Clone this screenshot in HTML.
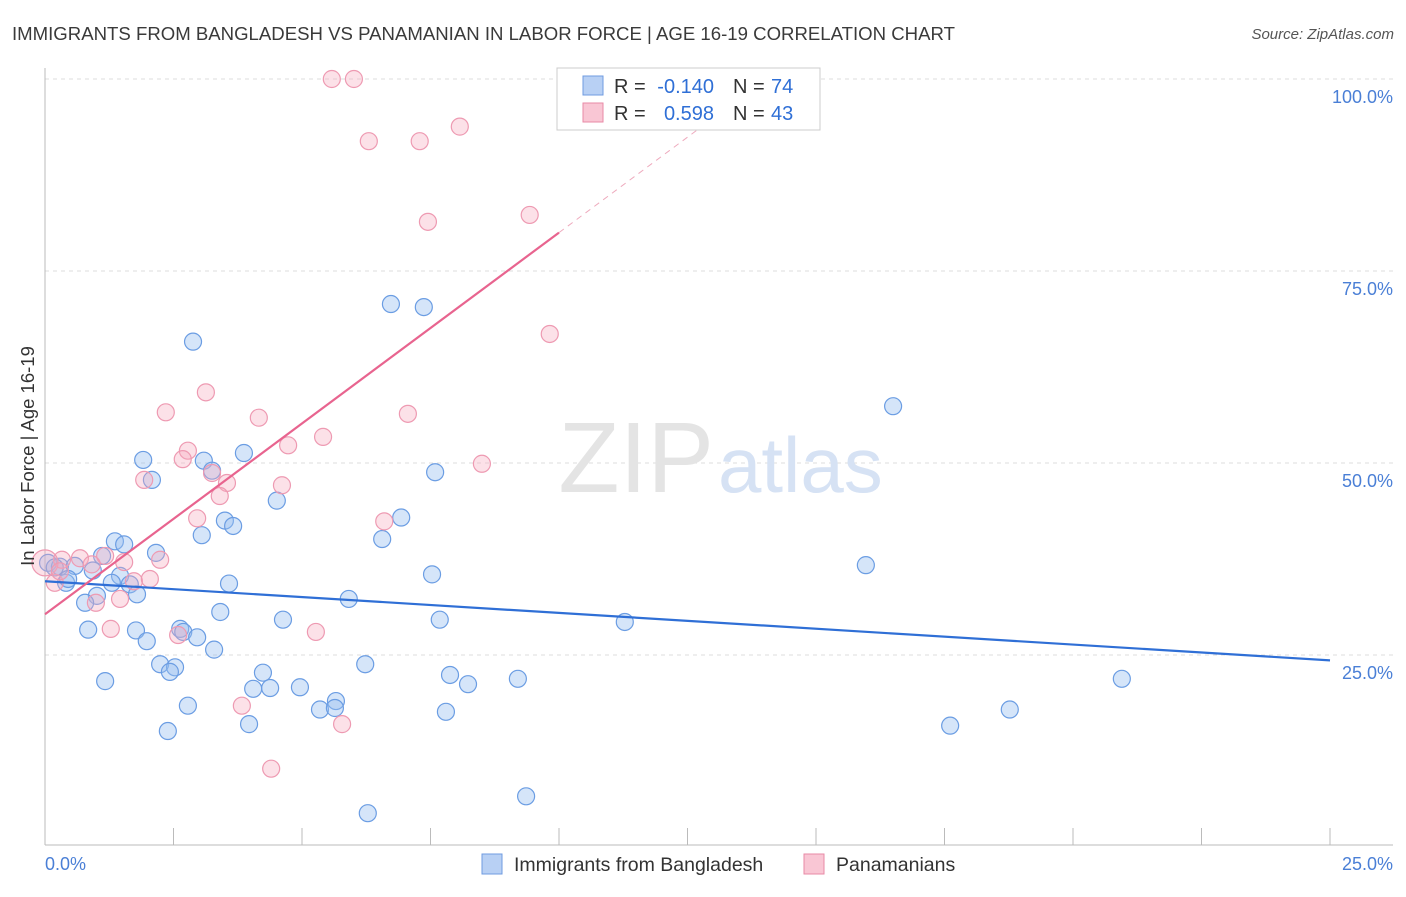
<!DOCTYPE html>
<html><head><meta charset="utf-8"><style>
body{margin:0;background:#fff;font-family:"Liberation Sans",sans-serif}
svg text{font-family:"Liberation Sans",sans-serif}
</style></head><body>
<svg width="1406" height="892" xmlns="http://www.w3.org/2000/svg">
<text x="12" y="40" font-size="18.6" fill="#3a3a3a">IMMIGRANTS FROM BANGLADESH VS PANAMANIAN IN LABOR FORCE | AGE 16-19 CORRELATION CHART</text>
<text x="1394" y="39" font-size="15" fill="#555" font-style="italic" text-anchor="end">Source: ZipAtlas.com</text>
<g id="grid"></g>
<text x="714" y="492" font-size="100" fill="#e4e4e4" text-anchor="end" font-family="Liberation Serif">ZIP</text>
<text x="718" y="492" font-size="78" fill="#d6e2f4">atlas</text>
<g id="marks"></g>
<text transform="translate(34,456) rotate(-90)" font-size="18.5" fill="#333" text-anchor="middle">In Labor Force | Age 16-19</text>
<text x="45" y="870" font-size="18" fill="#4a7fd6">0.0%</text>
<text x="1393" y="870" font-size="18" fill="#4a7fd6" text-anchor="end">25.0%</text>
<g>
<rect x="557" y="68" width="263" height="62" fill="#fff" stroke="#ccc"/>
<rect x="583" y="76" width="20" height="19" fill="#b8d0f4" stroke="#6f9be0"/>
<rect x="583" y="103" width="20" height="19" fill="#f9c6d4" stroke="#e88aa6"/>
<text x="614" y="93" font-size="20" fill="#333">R =</text>
<text x="714" y="93" font-size="20" fill="#2f6fd6" text-anchor="end">-0.140</text>
<text x="733" y="93" font-size="20" fill="#333">N =</text>
<text x="771" y="93" font-size="20" fill="#2f6fd6">74</text>
<text x="614" y="120" font-size="20" fill="#333">R =</text>
<text x="714" y="120" font-size="20" fill="#2f6fd6" text-anchor="end">0.598</text>
<text x="733" y="120" font-size="20" fill="#333">N =</text>
<text x="771" y="120" font-size="20" fill="#2f6fd6">43</text>
</g>
<g>
<rect x="482" y="854" width="20" height="20" fill="#b8d0f4" stroke="#6f9be0"/>
<text x="514" y="871" font-size="19.5" fill="#333">Immigrants from Bangladesh</text>
<rect x="804" y="854" width="20" height="20" fill="#f9c6d4" stroke="#e88aa6"/>
<text x="836" y="871" font-size="19.5" fill="#333">Panamanians</text>
</g>
</svg>
<script>
const yTicks=[100,75,50,25];
const xTicks=[0,2.5,5,7.5,10,12.5,15,17.5,20,22.5,25];
const blueX=[2.88,6.73,7.37,16.50,1.91,3.09,3.87,2.08,3.25,7.59,4.51,3.5,3.66,6.93,3.05,6.56,1.36,1.54,2.16,1.11,0.06,0.29,0.58,0.93,1.46,1.3,1.65,0.41,3.58,7.53,15.97,1.01,1.79,0.78,5.91,3.41,4.63,7.68,11.28,0.84,1.77,2.63,2.69,2.96,1.98,3.29,2.24,2.53,2.43,6.23,4.24,7.88,8.23,9.2,20.95,1.17,4.05,4.38,4.96,5.66,5.35,5.64,2.78,18.77,7.80,3.97,17.61,2.39,9.36,6.28,0.19,0.45];
const blueY=[65.8,70.7,70.3,57.4,50.4,50.3,51.3,47.8,49.0,48.8,45.1,42.5,41.8,42.9,40.6,40.1,39.8,39.4,38.3,37.9,37.0,36.5,36.6,36.0,35.3,34.4,34.2,34.4,34.3,35.5,36.7,32.7,32.9,31.8,32.3,30.6,29.6,29.6,29.3,28.3,28.2,28.4,28.0,27.3,26.8,25.7,23.8,23.4,22.8,23.8,22.7,22.4,21.2,21.9,21.9,21.6,20.6,20.7,20.8,19.0,17.9,18.1,18.4,17.9,17.6,16.0,15.8,15.1,6.6,4.4,36.4,34.9];
const pinkX=[5.58,6.01,6.3,7.29,8.07,9.43,7.45,9.82,3.13,2.35,4.16,7.06,5.41,4.73,2.78,2.68,8.5,3.25,3.54,4.61,1.93,3.4,2.96,6.6,1.17,0.68,0.33,0.0,0.91,1.54,2.24,1.73,2.04,0.19,1.46,0.99,1.28,5.27,2.59,3.83,5.78,4.4,0.29];
const pinkY=[100,100,91.9,91.9,93.8,82.3,81.4,66.8,59.2,56.6,55.9,56.4,53.4,52.3,51.6,50.5,49.9,48.7,47.4,47.1,47.8,45.7,42.8,42.4,37.9,37.6,37.4,37.0,36.8,37.1,37.4,34.6,34.9,34.4,32.3,31.8,28.4,28.0,27.6,18.4,16.0,10.2,35.9];
const blueTrend=[34.6,24.3];
const pinkTrend=[30.3,80.0];
const NS="http://www.w3.org/2000/svg";
const X=v=>45+v/25*1285, Y=v=>847-v/100*768;
const grid=document.getElementById('grid'), marks=document.getElementById('marks');
function mk(tag,attrs,parent){const e=document.createElementNS(NS,tag);for(const k in attrs)e.setAttribute(k,attrs[k]);parent.appendChild(e);return e;}
yTicks.forEach(t=>{
 const l=mk('line',{x1:45,x2:1393,y1:Y(t),y2:Y(t),stroke:'#ddd','stroke-dasharray':'4,4'},grid);
 
 
 const tx=mk('text',{x:1393,y:Y(t)+24,'font-size':18,fill:'#4a7fd6','text-anchor':'end'},grid);
 tx.textContent=t.toFixed(1)+'%';
 
 
});
const ax=mk('line',{x1:45,x2:1393,y1:845,y2:845,stroke:'#bbb'},grid);


const ay=mk('line',{x1:45,x2:45,y1:68,y2:845,stroke:'#bbb'},grid);


xTicks.forEach(t=>{
 const l=mk('line',{x1:X(t),x2:X(t),y1:828,y2:845,stroke:'#bbb'},grid);
 
 
});
blueX.forEach((v,i)=>{
 const c=mk('circle',{cx:X(v),cy:Y(blueY[i]),r:8.5,fill:'rgba(150,190,240,0.4)',stroke:'#6b9de3','stroke-width':1.2},marks);
 
 
});
pinkX.forEach((v,i)=>{
 const c=mk('circle',{cx:X(v),cy:Y(pinkY[i]),r:i==27?13:8.5,fill:'rgba(245,170,190,0.35)',stroke:'#ee9ab2','stroke-width':1.2},marks);
 
 
});
const bl=mk('line',{x1:X(0),y1:Y(blueTrend[0]),x2:X(25),y2:Y(blueTrend[1]),stroke:'#2f6fd6','stroke-width':2.2},marks);


const xe=10, slope=(pinkTrend[1]-pinkTrend[0])/xe;
const pl=mk('line',{x1:X(0),y1:Y(pinkTrend[0]),x2:X(xe),y2:Y(pinkTrend[1]),stroke:'#e8648f','stroke-width':2.2},marks);


const xd=(100-pinkTrend[0])/slope*0.94;
const pd=mk('line',{x1:X(xe),y1:Y(pinkTrend[1]),x2:X(xd),y2:Y(pinkTrend[0]+slope*xd),stroke:'#eeaabd','stroke-width':1,'stroke-dasharray':'6,5'},marks);


</script>
</body></html>
